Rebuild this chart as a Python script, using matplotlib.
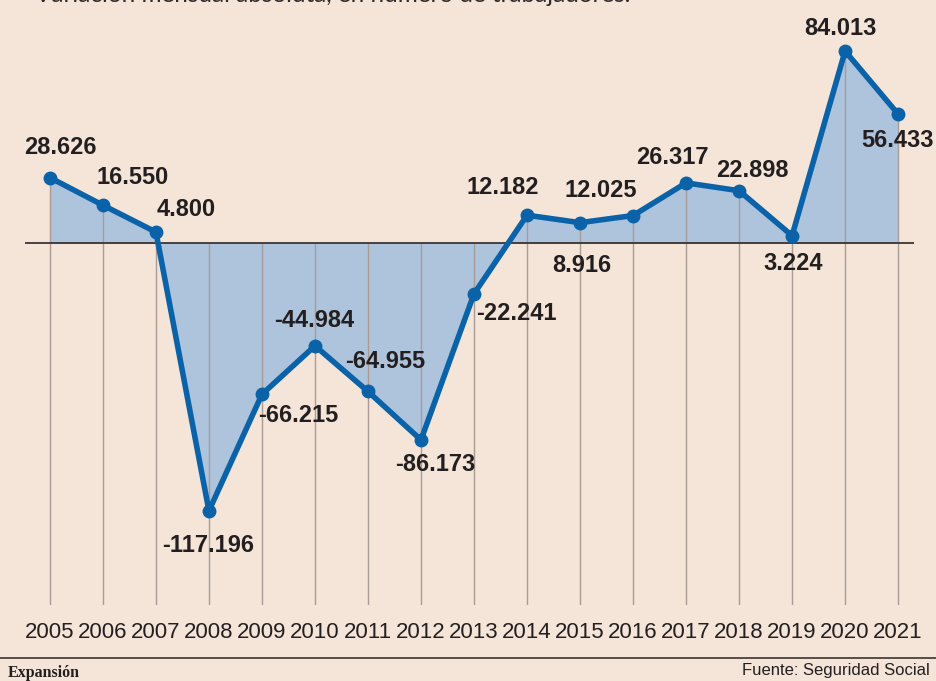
import matplotlib
matplotlib.use("Agg")
import matplotlib.pyplot as plt
import numpy as np

# Variación mensual de afiliados, por año
years = [2005, 2006, 2007, 2008, 2009, 2010, 2011, 2012, 2013,
         2014, 2015, 2016, 2017, 2018, 2019, 2020, 2021]
values = [28626, 16550, 4800, -117196, -66215, -44984, -64955, -86173, -22241,
          12182, 8916, 12025, 26317, 22898, 3224, 84013, 56433]
labels = ["28.626", "16.550", "4.800", "-117.196", "-66.215", "-44.984", "-64.955",
          "-86.173", "-22.241", "12.182", "8.916", "12.025", "26.317", "22.898",
          "3.224", "84.013", "56.433"]

# label offsets in pixels (dx, dy) relative to each point
offsets = [(10, 30), (30, 28), (30, 23), (-1, -35), (36, -21), (-1, 25),
           (17, 30), (14, -25), (42, -20), (-24, 28), (2, -43), (-32, 25),
           (-14, 25), (13, 20), (1, -28), (-5, 23), (-1, -26)]

BG = "#f5e5d9"
LINE = "#0a63a9"
FILL = "#aec3dc"
GRID = "#a89c94"
TXT = "#231f20"

cond = ["Liberation Sans", "DejaVu Sans"]

fig = plt.figure(figsize=(9.36, 6.81), dpi=100, facecolor=BG)
ax = fig.add_axes([25 / 936, 1 - 605 / 681, 889 / 936, 585 / 681])
ax.set_facecolor(BG)

x = np.array(years)
y = np.array(values)
ymin, ymax = -158400, 97600

ax.fill_between(x, 0, y, color=FILL, linewidth=0, zorder=1)
for xi, yi in zip(x, y):
    ax.vlines(xi, ymin, max(yi, 0), color=GRID, linewidth=1, zorder=2)
ax.axhline(0, color="#3a3433", linewidth=1.3, zorder=3)
ax.plot(x, y, color=LINE, linewidth=4, marker="o", markersize=9,
        solid_joinstyle="round", zorder=4)

for xi, yi, lab, (dx, dy) in zip(x, y, labels, offsets):
    ax.annotate(lab, (xi, yi), xytext=(dx, dy), textcoords="offset pixels",
                ha="center", va="center", fontsize=17, fontweight="bold",
                family=cond, color=TXT, zorder=5)

ax.set_xlim(2004.53, 2021.30)
ax.set_ylim(ymin, ymax)
ax.set_xticks(years)
ax.set_xticklabels([str(v) for v in years], family=cond, fontsize=16, color=TXT)
ax.tick_params(axis="x", length=0, pad=12)
ax.set_yticks([])
for s in ax.spines.values():
    s.set_visible(False)

fig.text(35 / 936, 1 + 4 / 681, "Variación mensual absoluta, en número de trabajadores.",
         ha="left", va="center", fontsize=17.5, color="#2e2a2a", family="Lato")

fig.add_artist(plt.Line2D([0, 1], [1 - 658 / 681] * 2, color="#3a3433", linewidth=1.2))
fig.text(8 / 936, 1 - 673 / 681, "Expansión", ha="left", va="center",
         fontsize=11.5, fontweight="bold", family="Liberation Serif", color=TXT)
fig.text(930 / 936, 1 - 671 / 681, "Fuente: Seguridad Social", ha="right",
         va="center", fontsize=12, family=cond, color=TXT)

fig.savefig("out.png", dpi=100, facecolor=BG)
